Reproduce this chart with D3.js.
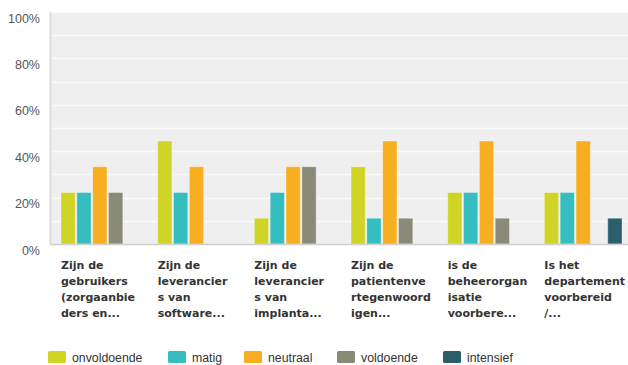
<!DOCTYPE html>
<html><head><meta charset="utf-8">
<script src="https://cdn.jsdelivr.net/npm/d3@7/dist/d3.min.js"></script>
<style>body{margin:0;background:#fff}svg{display:block}</style>
</head><body>
<svg id="chart" width="628" height="365"></svg>
<script>
const categories = [
  ["Zijn de","gebruikers","(zorgaanbie","ders en..."],
  ["Zijn de","leverancier","s van","software..."],
  ["Zijn de","leverancier","s van","implanta..."],
  ["Zijn de","patientenve","rtegenwoord","igen..."],
  ["is de","beheerorgan","isatie","voorbere..."],
  ["Is het","departement","voorbereid","/..."]
];
const seriesNames = ["onvoldoende","matig","neutraal","voldoende","intensief"];
const seriesColors = ["#cfd427","#35bdbf","#f7ae20","#898a77","#2c5e6b"];
const onvoldoende = [22.2, 44.4, 11.1, 33.3, 22.2, 22.2];
const matig       = [22.2, 22.2, 22.2, 11.1, 22.2, 22.2];
const neutraal    = [33.3, 33.3, 33.3, 44.4, 44.4, 44.4];
const voldoende   = [22.2, 0,    33.3, 11.1, 11.1, 0];
const intensief   = [0,    0,    0,    0,    0,    11.1];
const seriesValues = [onvoldoende, matig, neutraal, voldoende, intensief];
const yTicks = [0,20,40,60,80,100];

(function(){
const svg = d3.select("#chart");
const pL = 50, pR = 630, pT = 12, pB = 244;

const x = d3.scaleBand().domain(d3.range(categories.length)).range([pL, pR]).paddingInner(0).paddingOuter(0);
const xs = d3.scaleBand().domain(d3.range(seriesNames.length)).range([11, x.bandwidth() - 8]).paddingInner(0.1);
const y = d3.scaleLinear().domain([0,100]).range([pB, pT]);

svg.append("rect").attr("x", pL).attr("y", pT).attr("width", pR-pL).attr("height", pB-pT).attr("fill", "#efefef");

svg.append("g").selectAll("line").data(d3.range(10, 101, 10)).join("line")
  .attr("x1", pL).attr("x2", pR)
  .attr("y1", d => Math.round(y(d)) + 0.5).attr("y2", d => Math.round(y(d)) + 0.5)
  .attr("stroke", "#fafafa").attr("stroke-width", 1.5);

svg.append("line").attr("x1", pL+0.5).attr("x2", pL+0.5).attr("y1", pT).attr("y2", pB+1)
  .attr("stroke", "#dcdcdc").attr("stroke-width", 2);

const yAxis = d3.axisLeft(y).tickValues(yTicks).tickFormat(d => d + "%").tickSize(0).tickPadding(10);
const ya = svg.append("g").attr("transform", `translate(${pL},0)`).call(yAxis);
ya.select(".domain").remove();
ya.selectAll("text").attr("font-family", "Liberation Sans, Arial, sans-serif").attr("font-size", "12.5px")
  .attr("fill", "#555").attr("dy", "0.8em");

const groups = svg.append("g").selectAll("g").data(categories).join("g")
  .attr("transform", (d,i) => `translate(${x(i)},0)`);
groups.selectAll("rect").data((d,i) => seriesValues.map((s,j) => ({j, v: s[i]})).filter(e => e.v > 0)).join("rect")
  .attr("x", e => xs(e.j)).attr("width", xs.bandwidth())
  .attr("y", e => y(e.v)).attr("height", e => pB - y(e.v))
  .attr("fill", e => seriesColors[e.j])
  .attr("stroke", "rgba(255,255,255,0.35)").attr("stroke-width", 1);

svg.append("line").attr("x1", pL).attr("x2", pR).attr("y1", pB+0.5).attr("y2", pB+0.5)
  .attr("stroke", "#cfcfcf").attr("stroke-width", 1.5);

const labels = svg.append("g").selectAll("text").data(categories).join("text")
  .attr("x", (d,i) => x(i) + 11).attr("y", 269)
  .attr("font-family", "DejaVu Sans, Verdana, sans-serif").attr("font-weight", "bold")
  .attr("font-size", "11px").attr("fill", "#333");
labels.selectAll("tspan").data(d => d).join("tspan")
  .attr("x", function(){ return this.parentNode.getAttribute("x"); })
  .attr("dy", (d,k) => k === 0 ? 0 : 16).text(d => d);

const legendX = [48, 168, 244, 337, 443];
const lg = svg.append("g").selectAll("g").data(seriesNames).join("g")
  .attr("transform", (d,i) => `translate(${legendX[i]},351)`);
lg.append("rect").attr("width", 18).attr("height", 12).attr("rx", 1.5).attr("fill", (d,i) => seriesColors[i]);
lg.append("text").attr("x", 24).attr("y", 10.5).text(d => d)
  .attr("font-family", "Liberation Sans, Arial, sans-serif").attr("font-size", "12.3px").attr("fill", "#333");
})();
</script>
</body></html>
